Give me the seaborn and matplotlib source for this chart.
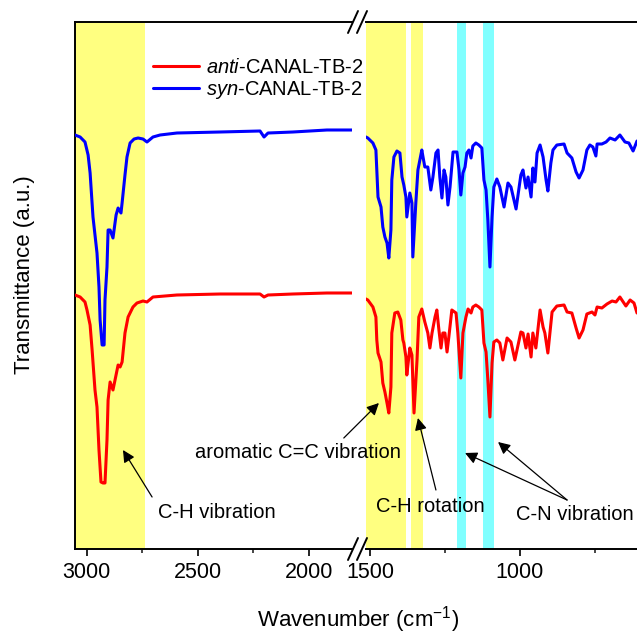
import numpy as np
import pandas as pd
import matplotlib.pyplot as plt
import matplotlib.lines as mlines
import seaborn as sns

# --- data (wavenumber in cm-1, transmittance in a.u.)
syn_wn_hi = [3053, 3030, 3008, 2994, 2985, 2972, 2954, 2945, 2940, 2931, 2922, 2918, 2909, 2904,
             2895, 2882, 2868, 2859, 2846, 2841, 2828, 2819, 2805, 2787, 2769, 2747, 2729, 2702,
             2670, 2594, 2400, 2220, 2202, 2184, 2072, 1919, 1800]
syn_t_hi = [414, 412, 407, 394, 376, 332, 296, 262, 229, 204, 204, 249, 282, 319,
            319, 311, 334, 341, 336, 346, 374, 392, 406, 410, 411, 410, 407, 412,
            414, 416, 417, 418, 412, 416, 417, 419, 419]

anti_wn_hi = [3053, 3030, 3008, 2999, 2985, 2976, 2963, 2954, 2945, 2936, 2927, 2918, 2909, 2904,
              2895, 2882, 2859, 2850, 2841, 2828, 2814, 2792, 2774, 2747, 2729, 2702, 2594, 2400,
              2220, 2202, 2184, 2072, 1919, 1800]
anti_t_hi = [254, 252, 247, 239, 224, 199, 159, 142, 99, 67, 66, 66, 109, 149,
             167, 159, 184, 182, 187, 216, 232, 242, 246, 248, 247, 252, 254, 255,
             255, 252, 254, 255, 256, 256]

syn_wn_lo = [1520, 1507, 1490, 1480, 1477, 1473, 1463, 1457, 1450, 1443, 1437, 1430, 1427, 1420,
             1410, 1400, 1393, 1387, 1380, 1377, 1367, 1360, 1357, 1347, 1340, 1327, 1323, 1317,
             1307, 1297, 1290, 1280, 1273, 1267, 1260, 1253, 1247, 1240, 1233, 1223, 1210, 1203,
             1197, 1190, 1183, 1177, 1170, 1163, 1157, 1147, 1137, 1127, 1120, 1113, 1107, 1100,
             1093, 1087, 1077, 1067, 1053, 1040, 1030, 1013, 997, 990, 980, 973, 963, 957,
             950, 943, 933, 923, 913, 907, 897, 890, 877, 853, 843, 827, 813, 803,
             790, 777, 767, 757, 747, 743, 727, 713, 700, 683, 667, 650, 637, 623, 610]
syn_t_lo = [413, 411, 406, 399, 379, 352, 342, 322, 312, 306, 291, 319, 369, 392,
            398, 396, 372, 364, 352, 332, 356, 346, 292, 346, 379, 399, 392, 382,
            382, 359, 372, 396, 399, 372, 351, 379, 372, 344, 362, 397, 397, 379,
            354, 376, 382, 396, 399, 391, 403, 406, 404, 401, 369, 359, 329, 282,
            332, 362, 370, 362, 342, 366, 362, 340, 374, 379, 361, 372, 352, 381,
            367, 396, 404, 392, 369, 358, 386, 399, 404, 405, 396, 391, 377, 371,
            379, 399, 404, 402, 393, 405, 405, 407, 411, 409, 414, 407, 406, 398, 408]

anti_wn_lo = [1520, 1507, 1490, 1480, 1477, 1473, 1463, 1457, 1450, 1443, 1437, 1430, 1427, 1417,
              1407, 1397, 1390, 1387, 1380, 1377, 1367, 1360, 1353, 1343, 1337, 1327, 1317, 1307,
              1300, 1293, 1283, 1277, 1270, 1263, 1257, 1250, 1243, 1237, 1227, 1213, 1207, 1197,
              1190, 1180, 1173, 1163, 1157, 1147, 1137, 1127, 1120, 1113, 1107, 1100, 1093, 1087,
              1077, 1067, 1057, 1043, 1030, 1017, 997, 990, 980, 973, 963, 957, 947, 933,
              923, 917, 907, 893, 877, 853, 843, 827, 813, 803, 790, 777, 760, 750,
              743, 727, 710, 693, 680, 667, 647, 633, 620, 610]
anti_t_lo = [251, 249, 242, 232, 209, 196, 187, 166, 157, 146, 136, 162, 216, 236,
             237, 229, 209, 206, 192, 174, 201, 194, 136, 189, 232, 240, 227, 216,
             201, 216, 232, 239, 219, 201, 216, 216, 197, 212, 239, 236, 216, 171,
             216, 232, 240, 236, 242, 244, 242, 239, 206, 197, 169, 132, 186, 207,
             209, 206, 189, 211, 207, 189, 217, 216, 201, 215, 192, 216, 201, 239,
             222, 216, 196, 237, 243, 244, 237, 236, 221, 211, 219, 235, 237, 234,
             242, 241, 245, 248, 247, 252, 243, 249, 246, 236]

labels = ["$\\it{anti}$-CANAL-TB-2", "$\\it{syn}$-CANAL-TB-2"]
colors = ["#ff0000", "#0000ff"]

# highlighted regions
yellow_bands = [(3053, 2738), (1513, 1381), (1364, 1323)]
cyan_bands = [(1210, 1180), (1123, 1088)]

sns.set_style("white")
plt.rcParams['font.family'] = ['Liberation Sans', 'DejaVu Sans']
plt.rcParams['mathtext.fontset'] = 'custom'
plt.rcParams['mathtext.rm'] = 'Liberation Sans'
plt.rcParams['mathtext.it'] = 'Liberation Sans:italic'
plt.rcParams['text.color'] = 'black'

fig = plt.figure(figsize=(6.37, 6.35), dpi=100)
ax1 = fig.add_axes([75/637, 1-549/635, 277/637, 527/635])
ax2 = fig.add_axes([366/637, 1-549/635, 271/637, 527/635])

hi = pd.concat([pd.DataFrame({"wn": anti_wn_hi, "T": anti_t_hi, "s": labels[0]}),
                pd.DataFrame({"wn": syn_wn_hi, "T": syn_t_hi, "s": labels[1]})])
lo = pd.concat([pd.DataFrame({"wn": anti_wn_lo, "T": anti_t_lo, "s": labels[0]}),
                pd.DataFrame({"wn": syn_wn_lo, "T": syn_t_lo, "s": labels[1]})])

for ax, d in [(ax1, hi), (ax2, lo)]:
    for a, b in yellow_bands:
        ax.axvspan(a, b, color="#ffff80", lw=0, zorder=0)
    for a, b in cyan_bands:
        ax.axvspan(a, b, color="#80ffff", lw=0, zorder=0)
    sns.lineplot(data=d, x="wn", y="T", hue="s", palette=colors, lw=2.2, ax=ax,
                 legend=False, zorder=3)
    ax.set_ylim(0, 527)
    ax.set_yticks([])
    ax.set_xlabel("")
    ax.set_ylabel("")
    for s in ax.spines.values():
        s.set_linewidth(1.4)
        s.set_color("black")
    ax.spines['right'].set_visible(False)
    ax.tick_params(axis='x', which='major', direction='out', length=5, width=1.2,
                   labelsize=15.5, colors='black', bottom=True, pad=4)
    ax.tick_params(axis='x', which='minor', direction='out', length=3, width=1.2, bottom=True)

ax1.set_xlim(3053, 1806)
ax1.set_xticks([3000, 2500, 2000])
ax1.set_xticks([2750, 2250], minor=True)
ax2.set_xlim(1513, 610)
ax2.set_xticks([1500, 1000])
ax2.set_xticks([1250, 750], minor=True)
ax2.spines['left'].set_visible(False)

# break marks
for y0 in [22, 549]:
    for x0 in [348, 357]:
        fig.add_artist(mlines.Line2D([x0/637, (x0+10)/637], [1-(y0+11)/635, 1-(y0-11)/635],
                                     color='black', lw=1.4))

# legend
handles = [mlines.Line2D([], [], color=c, lw=2.2) for c in colors]
fig.legend(handles, labels, loc='upper left', bbox_to_anchor=(145/637, 1-50/635),
           frameon=False, fontsize=14.5, handlelength=2.3, handletextpad=0.35,
           labelspacing=0.1, borderaxespad=0)

arrow = dict(arrowstyle='-|>', color='black', lw=0.9, mutation_scale=18, shrinkA=0, shrinkB=0)
fs = 14.5
ax1.annotate("", xy=(2837, 99), xytext=(2706, 52), arrowprops=arrow)
ax1.text(2414, 37, "C-H vibration", ha='center', va='center', fontsize=fs)
ax2.annotate("", xy=(1470, 146), xytext=(1587, 111), arrowprops=arrow, annotation_clip=False)
fig.text(298/637, 1-452/635, "aromatic C=C vibration", ha='center', va='center', fontsize=fs)
ax2.annotate("", xy=(1340, 131), xytext=(1280, 59), arrowprops=arrow)
ax2.text(1300, 42, "C-H rotation", ha='center', va='center', fontsize=fs)
ax2.annotate("", xy=(1183, 96), xytext=(843, 49), arrowprops=arrow)
ax2.annotate("", xy=(1073, 107), xytext=(843, 49), arrowprops=arrow)
ax2.text(817, 34, "C-N vibration", ha='center', va='center', fontsize=fs)

fig.text(358/637, 1-620/635, "Wavenumber (cm$^{-1}$)", ha='center', va='center', fontsize=16)
fig.text(25/637, 1-275/635, "Transmittance (a.u.)", ha='center', va='center',
         rotation=90, fontsize=16)

fig.savefig("out.png", dpi=100)
